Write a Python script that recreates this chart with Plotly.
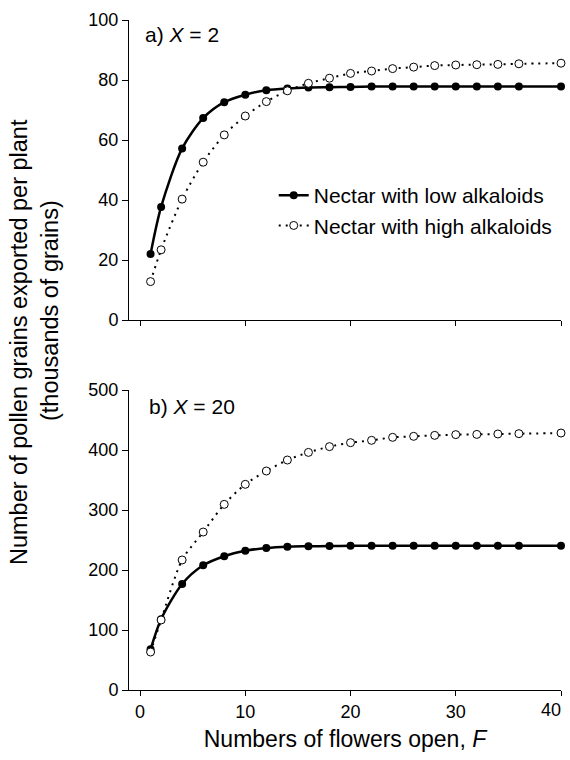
import plotly.graph_objects as go

# ---------------- data ----------------
flowers = [1, 2, 4, 6, 8, 10, 12, 14, 16, 18, 20, 22, 24, 26, 28, 30, 32, 34, 36, 40]

# panel a) X = 2
a_low = [22.0, 37.7, 57.2, 67.3, 72.6, 75.1, 76.6, 77.2, 77.5, 77.6, 77.7, 77.8,
         77.8, 77.8, 77.8, 77.8, 77.8, 77.8, 77.8, 77.8]
a_high = [12.8, 23.4, 40.3, 52.6, 61.7, 68.0, 72.8, 76.4, 78.9, 80.6, 82.2, 83.0,
          83.8, 84.3, 84.8, 85.0, 85.1, 85.2, 85.4, 85.6]

# panel b) X = 20
b_low = [67.8, 118.0, 176.7, 207.8, 223.0, 232.0, 236.7, 238.9, 239.5, 240.0, 240.3,
         240.5, 240.5, 240.5, 240.5, 240.5, 240.5, 240.5, 240.5, 240.5]
b_high = [63.3, 116.7, 216.7, 263.3, 309.4, 342.8, 365.0, 383.3, 396.0, 405.6, 412.2,
          416.1, 421.1, 422.8, 424.4, 425.6, 426.0, 426.7, 427.2, 428.3]

series_names = ["Nectar with low alkaloids", "Nectar with high alkaloids"]
x_ticks = [0, 10, 20, 30, 40]
a_ticks = [0, 20, 40, 60, 80, 100]
b_ticks = [0, 100, 200, 300, 400, 500]

# the last x label is drawn right-aligned at its tick so that it stays inside the page
x_ticktext = [str(v) for v in x_ticks[:-1]] + [""]
last_x = x_ticks[-1]

FONT = "Liberation Sans, Arial, Helvetica, sans-serif"

fig = go.Figure()

low_style = dict(mode="lines+markers",
                 line=dict(color="black", width=2.5, shape="spline", smoothing=0.8),
                 marker=dict(symbol="circle", size=8, color="black"),
                 cliponaxis=False)
high_style = dict(mode="lines+markers",
                  line=dict(color="black", width=2, dash="2px,5px", shape="spline", smoothing=0.8),
                  marker=dict(symbol="circle", size=8, color="white",
                              line=dict(color="black", width=1)),
                  cliponaxis=False)

fig.add_trace(go.Scatter(x=flowers, y=a_low, name=series_names[0], xaxis="x", yaxis="y",
                         showlegend=True, **low_style))
fig.add_trace(go.Scatter(x=flowers, y=a_high, name=series_names[1], xaxis="x", yaxis="y",
                         showlegend=True, **high_style))
fig.add_trace(go.Scatter(x=flowers, y=b_low, name=series_names[0], xaxis="x2", yaxis="y2",
                         showlegend=False, **low_style))
fig.add_trace(go.Scatter(x=flowers, y=b_high, name=series_names[1], xaxis="x2", yaxis="y2",
                         showlegend=False, **high_style))

H = 670.0
top_dom = [(690 - 320) / H, 1.0]
bot_dom = [0.0, 300 / H]

xcommon = dict(range=[-1.05, 40], tickvals=x_ticks, ticktext=x_ticktext, showline=True,
               linecolor="black", linewidth=1, ticks="outside", ticklen=5, tickcolor="black",
               showgrid=False, zeroline=False, automargin=False,
               tickfont=dict(family=FONT, size=18, color="black"))
ycommon = dict(showline=True, linecolor="black", linewidth=1, ticks="outside", ticklen=6,
               tickcolor="black", showgrid=False, zeroline=False, automargin=False,
               tickfont=dict(family=FONT, size=18, color="black"))

fig.update_layout(
    width=570, height=760,
    margin=dict(l=129, r=9, t=20, b=70),
    paper_bgcolor="white", plot_bgcolor="white",
    font=dict(family=FONT, color="black"),
    xaxis=dict(domain=[0, 1], anchor="y", showticklabels=False, **xcommon),
    yaxis=dict(domain=top_dom, anchor="x", range=[0, 100], tickvals=a_ticks, **ycommon),
    xaxis2=dict(domain=[0, 1], anchor="y2", showticklabels=True, **xcommon),
    yaxis2=dict(domain=bot_dom, anchor="x2", range=[0, 500], tickvals=b_ticks, **ycommon),
    legend=dict(x=0.335, y=(690 - 175) / H, xanchor="left", yanchor="top",
                bgcolor="rgba(0,0,0,0)", font=dict(family=FONT, size=21, color="black"),
                itemwidth=30, tracegroupgap=0),
    showlegend=True,
)

fig.update_xaxes(title_text="Numbers of flowers open, <i>F</i>", title_font=dict(family=FONT, size=23),
                 title_standoff=10, selector=dict(anchor="y2"))

annotations = [
    dict(text=str(last_x), x=last_x, xref="x2", y=0, yref="paper",
         xanchor="right", yanchor="top", xshift=2, yshift=-8, showarrow=False,
         font=dict(family=FONT, size=18, color="black")),
    dict(text="a) <i>X</i> = 2", x=(143 - 129) / 432, y=(690 - 35) / H, xref="paper", yref="paper",
         xanchor="left", yanchor="middle", showarrow=False, font=dict(family=FONT, size=21)),
    dict(text="b) <i>X</i> = 20", x=(147 - 129) / 432, y=(690 - 406) / H, xref="paper", yref="paper",
         xanchor="left", yanchor="middle", showarrow=False, font=dict(family=FONT, size=21)),
    dict(text="Number of pollen grains exported per plant", textangle=-90,
         x=(19 - 129) / 432, y=(690 - 342) / H, xref="paper", yref="paper",
         xanchor="center", yanchor="middle", showarrow=False, font=dict(family=FONT, size=23.5)),
    dict(text="(thousands of grains)", textangle=-90,
         x=(50 - 129) / 432, y=(690 - 311) / H, xref="paper", yref="paper",
         xanchor="center", yanchor="middle", showarrow=False, font=dict(family=FONT, size=23.5)),
]
fig.update_layout(annotations=annotations)

fig.write_html("out.html")
